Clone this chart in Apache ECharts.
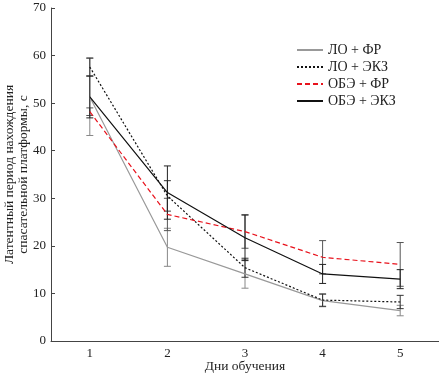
<!DOCTYPE html>
<html lang="ru">
<head>
  <meta charset="UTF-8">
  <title>Латентный период</title>
  <script src="https://cdn.jsdelivr.net/npm/echarts@6/dist/echarts.min.js"></script>
</head>
<body style="margin:0">
<div id="main" style="width:439px;height:375px"></div>
<script>
  var days = ['1', '2', '3', '4', '5'];
  var names = ['ЛО + ФР', 'ЛО + ЭКЗ', 'ОБЭ + ФР', 'ОБЭ + ЭКЗ'];

  var loFr = [51.3, 19.7, 14.1, 8.5, 6.4];
  var loFrErr = [8.1, 4.0, 3.0, 1.3, 1.1];
  var loEkz = [57.6, 30.5, 15.4, 8.6, 8.2];
  var loEkzErr = [1.9, 3.2, 2.0, 1.3, 1.4];
  var obeFr = [48.2, 26.6, 23.0, 17.6, 16.1];
  var obeFrErr = [0.8, 3.4, 3.5, 3.5, 4.6];
  var obeEkz = [51.3, 31.2, 21.7, 14.1, 13.0];
  var obeEkzErr = [4.4, 5.6, 4.8, 2.0, 2.0];

  var font = 'Liberation Serif';
  var chart = echarts.init(document.getElementById('main'));

  function lineSeries(name, data, color, type) {
    return {
      name: name, type: 'line', data: data, symbol: 'none', z: 3,
      lineStyle: {color: color, width: 1.2, type: type},
      itemStyle: {color: color}
    };
  }

  function errSeries(mean, err, color) {
    return {
      type: 'custom', z: 2, silent: true,
      data: mean.map(function (m, i) { return [i, m - err[i], m + err[i]]; }),
      renderItem: function (params, api) {
        var lo = api.coord([api.value(0), api.value(1)]);
        var hi = api.coord([api.value(0), api.value(2)]);
        var w = 3.5;
        var st = {stroke: color, lineWidth: 1};
        return {
          type: 'group',
          children: [
            {type: 'line', shape: {x1: lo[0], y1: lo[1], x2: hi[0], y2: hi[1]}, style: st},
            {type: 'line', shape: {x1: lo[0] - w, y1: lo[1], x2: lo[0] + w, y2: lo[1]}, style: st},
            {type: 'line', shape: {x1: hi[0] - w, y1: hi[1], x2: hi[0] + w, y2: hi[1]}, style: st}
          ]
        };
      }
    };
  }

  chart.setOption({
    animation: false,
    textStyle: {fontFamily: font},
    grid: {left: 51, right: 0, top: 8, bottom: 34, outerBoundsMode: 'none', containLabel: false},
    legend: {
      orient: 'vertical', left: 291, top: 38,
      itemWidth: 26, itemHeight: 14, itemGap: 3,
      itemStyle: {opacity: 0},
      textStyle: {fontFamily: font, fontSize: 14, color: '#222'},
      data: names
    },
    xAxis: {
      type: 'category', data: days, boundaryGap: true,
      name: 'Дни обучения', nameLocation: 'middle', nameGap: 18, nameMoveOverlap: false,
      nameTextStyle: {fontFamily: font, fontSize: 13.5, color: '#222'},
      axisLine: {lineStyle: {color: '#444'}},
      axisTick: {inside: true, alignWithLabel: true, length: 5, lineStyle: {color: '#444'}},
      axisLabel: {fontFamily: font, fontSize: 13, color: '#222', margin: 6}
    },
    yAxis: {
      type: 'value', min: 0, max: 70, interval: 10,
      name: 'Латентный период нахождения\nспасательной платформы, с',
      nameLocation: 'middle', nameGap: 20.5, nameRotate: 90, nameMoveOverlap: false,
      nameTextStyle: {fontFamily: font, fontSize: 13.5, color: '#222', lineHeight: 14},
      splitLine: {show: false},
      axisLine: {show: true, lineStyle: {color: '#444'}},
      axisTick: {show: true, inside: true, length: 4, lineStyle: {color: '#444'}},
      axisLabel: {fontFamily: font, fontSize: 13, color: '#222', margin: 5}
    },
    series: [
      errSeries(loFr, loFrErr, '#888'),
      errSeries(loEkz, loEkzErr, '#333'),
      errSeries(obeFr, obeFrErr, '#555'),
      errSeries(obeEkz, obeEkzErr, '#222'),
      lineSeries(names[0], loFr, '#999', 'solid'),
      lineSeries(names[1], loEkz, '#111', [2, 2]),
      lineSeries(names[2], obeFr, '#e8121c', [5, 3]),
      lineSeries(names[3], obeEkz, '#111', 'solid')
    ]
  });
</script>
</body>
</html>
